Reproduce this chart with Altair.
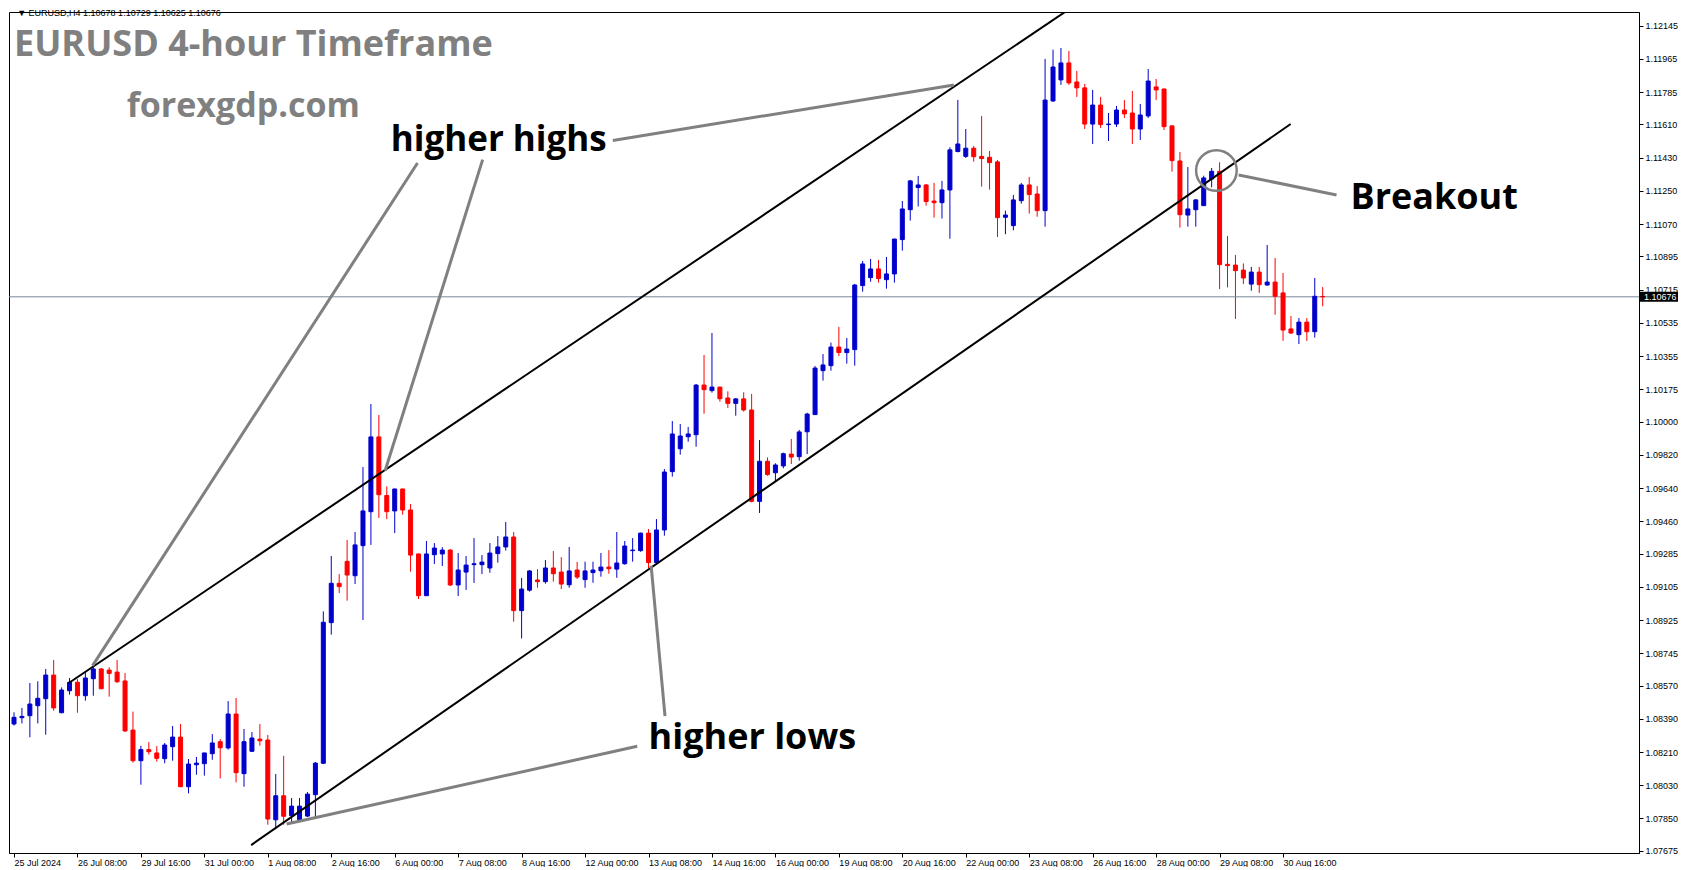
import altair as alt
import pandas as pd

# ---------------- data (EURUSD H4) ----------------
open_ = [1.08362, 1.08396, 1.08407, 1.08461, 1.08499, 1.08627, 1.08423, 1.08542, 1.08588, 1.08515,
         1.08607, 1.08660, 1.08654, 1.08643, 1.08595, 1.08329, 1.08163, 1.08223, 1.08205, 1.08174,
         1.08239, 1.08291, 1.08022, 1.08141, 1.08147, 1.08201, 1.08266, 1.08232, 1.08416, 1.08093,
         1.08214, 1.08280, 1.08275, 1.07843, 1.07973, 1.07865, 1.07843, 1.07863, 1.07979, 1.08149,
         1.08911, 1.09124, 1.09243, 1.09165, 1.09328, 1.09512, 1.09917, 1.09600, 1.09516, 1.09635,
         1.09521, 1.09283, 1.09057, 1.09279, 1.09283, 1.09304, 1.09115, 1.09185, 1.09225, 1.09225,
         1.09207, 1.09285, 1.09321, 1.09375, 1.08976, 1.09087, 1.09142, 1.09133, 1.09207, 1.09185,
         1.09116, 1.09196, 1.09144, 1.09182, 1.09192, 1.09212, 1.09201, 1.09230, 1.09301, 1.09301,
         1.09396, 1.09236, 1.09413, 1.09729, 1.09853, 1.09918, 1.09929, 1.10198, 1.10168, 1.10187,
         1.10128, 1.10099, 1.10123, 1.10063, 1.09568, 1.09785, 1.09723, 1.09760, 1.09824, 1.09810,
         1.09945, 1.10038, 1.10276, 1.10303, 1.10404, 1.10374, 1.10390, 1.10737, 1.10780, 1.10827,
         1.10769, 1.10800, 1.10986, 1.11148, 1.11268, 1.11282, 1.11195, 1.11186, 1.11255, 1.11463,
         1.11437, 1.11481, 1.11437, 1.11432, 1.11407, 1.11107, 1.11062, 1.11197, 1.11282, 1.11233,
         1.11143, 1.11737, 1.11851, 1.11943, 1.11840, 1.11808, 1.11612, 1.11715, 1.11609, 1.11612,
         1.11688, 1.11672, 1.11585, 1.11656, 1.11813, 1.11802, 1.11602, 1.11412, 1.11119, 1.11148,
         1.11170, 1.11314, 1.11356, 1.10852, 1.10848, 1.10821, 1.10745, 1.10810, 1.10740, 1.10756,
         1.10697, 1.10502, 1.10471, 1.10539, 1.10487, 1.10678]
high = [1.08425, 1.08449, 1.08584, 1.08593, 1.08660, 1.08709, 1.08560, 1.08611, 1.08605, 1.08642,
        1.08687, 1.08665, 1.08669, 1.08709, 1.08638, 1.08429, 1.08244, 1.08264, 1.08242, 1.08259,
        1.08351, 1.08362, 1.08172, 1.08183, 1.08205, 1.08307, 1.08280, 1.08486, 1.08503, 1.08335,
        1.08318, 1.08362, 1.08302, 1.08091, 1.08190, 1.07961, 1.07961, 1.07993, 1.08156, 1.08972,
        1.09272, 1.09174, 1.09359, 1.09402, 1.09754, 1.10095, 1.10036, 1.09649, 1.09637, 1.09637,
        1.09554, 1.09285, 1.09353, 1.09342, 1.09320, 1.09310, 1.09288, 1.09272, 1.09369, 1.09277,
        1.09342, 1.09380, 1.09456, 1.09402, 1.09153, 1.09196, 1.09201, 1.09250, 1.09299, 1.09266,
        1.09321, 1.09240, 1.09241, 1.09241, 1.09288, 1.09304, 1.09402, 1.09353, 1.09369, 1.09398,
        1.09418, 1.09472, 1.09743, 1.10003, 1.09987, 1.09971, 1.10204, 1.10361, 1.10480, 1.10189,
        1.10164, 1.10128, 1.10159, 1.10150, 1.09900, 1.09806, 1.09774, 1.09832, 1.09906, 1.09955,
        1.10048, 1.10301, 1.10366, 1.10428, 1.10513, 1.10453, 1.10746, 1.10870, 1.10881, 1.10876,
        1.10892, 1.10991, 1.11195, 1.11309, 1.11331, 1.11287, 1.11293, 1.11304, 1.11486, 1.11743,
        1.11585, 1.11493, 1.11656, 1.11466, 1.11417, 1.11143, 1.11228, 1.11293, 1.11325, 1.11276,
        1.11965, 1.12015, 1.12024, 1.12008, 1.11900, 1.11829, 1.11797, 1.11759, 1.11672, 1.11710,
        1.11742, 1.11791, 1.11721, 1.11910, 1.11856, 1.11804, 1.11604, 1.11461, 1.11379, 1.11206,
        1.11332, 1.11374, 1.11405, 1.11006, 1.10903, 1.10857, 1.10838, 1.10838, 1.10957, 1.10886,
        1.10805, 1.10572, 1.10561, 1.10561, 1.10778, 1.10729]
low = [1.08353, 1.08365, 1.08290, 1.08365, 1.08304, 1.08434, 1.08420, 1.08521, 1.08423, 1.08488,
       1.08515, 1.08550, 1.08510, 1.08584, 1.08320, 1.08152, 1.08033, 1.08196, 1.08158, 1.08149,
       1.08163, 1.08020, 1.07986, 1.08087, 1.08082, 1.08168, 1.08067, 1.08223, 1.08046, 1.08022,
       1.08210, 1.08244, 1.07816, 1.07793, 1.07816, 1.07831, 1.07840, 1.07858, 1.07858, 1.08145,
       1.08846, 1.09071, 1.09030, 1.09120, 1.08925, 1.09332, 1.09478, 1.09472, 1.09396, 1.09496,
       1.09187, 1.09039, 1.09055, 1.09229, 1.09218, 1.09109, 1.09055, 1.09088, 1.09126, 1.09174,
       1.09181, 1.09236, 1.09301, 1.08916, 1.08825, 1.09079, 1.09100, 1.09122, 1.09133, 1.09093,
       1.09100, 1.09147, 1.09100, 1.09127, 1.09160, 1.09176, 1.09154, 1.09225, 1.09241, 1.09295,
       1.09207, 1.09230, 1.09382, 1.09702, 1.09821, 1.09891, 1.09864, 1.10043, 1.10157, 1.10108,
       1.10074, 1.10032, 1.10054, 1.09563, 1.09505, 1.09707, 1.09676, 1.09747, 1.09770, 1.09788,
       1.09824, 1.10036, 1.10222, 1.10276, 1.10355, 1.10314, 1.10303, 1.10704, 1.10758, 1.10753,
       1.10720, 1.10753, 1.10926, 1.11089, 1.11165, 1.11170, 1.11105, 1.11100, 1.10991, 1.11459,
       1.11428, 1.11408, 1.11273, 1.11257, 1.11000, 1.11015, 1.11036, 1.11181, 1.11127, 1.11110,
       1.11056, 1.11732, 1.11824, 1.11824, 1.11759, 1.11585, 1.11504, 1.11591, 1.11520, 1.11596,
       1.11645, 1.11504, 1.11526, 1.11645, 1.11742, 1.11580, 1.11354, 1.11051, 1.11056, 1.11056,
       1.11168, 1.11269, 1.10718, 1.10727, 1.10556, 1.10745, 1.10709, 1.10697, 1.10736, 1.10579,
       1.10438, 1.10475, 1.10420, 1.10437, 1.10455, 1.10625]
close = [1.08398, 1.08403, 1.08470, 1.08501, 1.08627, 1.08449, 1.08546, 1.08588, 1.08515, 1.08611,
         1.08660, 1.08553, 1.08636, 1.08591, 1.08324, 1.08163, 1.08223, 1.08212, 1.08176, 1.08248,
         1.08291, 1.08022, 1.08145, 1.08150, 1.08205, 1.08259, 1.08233, 1.08416, 1.08098, 1.08266,
         1.08286, 1.08271, 1.07847, 1.07973, 1.07862, 1.07917, 1.07917, 1.07982, 1.08150, 1.08913,
         1.09124, 1.09106, 1.09169, 1.09332, 1.09516, 1.09917, 1.09604, 1.09512, 1.09635, 1.09521,
         1.09277, 1.09057, 1.09283, 1.09315, 1.09304, 1.09115, 1.09196, 1.09223, 1.09230, 1.09239,
         1.09288, 1.09321, 1.09375, 1.08976, 1.09093, 1.09191, 1.09133, 1.09207, 1.09176, 1.09120,
         1.09191, 1.09158, 1.09191, 1.09196, 1.09212, 1.09203, 1.09234, 1.09326, 1.09304, 1.09396,
         1.09236, 1.09413, 1.09727, 1.09933, 1.09922, 1.09933, 1.10198, 1.10173, 1.10187, 1.10124,
         1.10099, 1.10123, 1.10063, 1.09568, 1.09785, 1.09713, 1.09765, 1.09826, 1.09808, 1.09944,
         1.10041, 1.10290, 1.10307, 1.10404, 1.10374, 1.10393, 1.10740, 1.10854, 1.10827, 1.10775,
         1.10800, 1.10989, 1.11152, 1.11304, 1.11282, 1.11192, 1.11186, 1.11255, 1.11472, 1.11504,
         1.11481, 1.11435, 1.11425, 1.11403, 1.11105, 1.11119, 1.11201, 1.11282, 1.11230, 1.11143,
         1.11742, 1.11921, 1.11943, 1.11835, 1.11808, 1.11612, 1.11715, 1.11609, 1.11612, 1.11688,
         1.11667, 1.11585, 1.11661, 1.11845, 1.11797, 1.11598, 1.11414, 1.11121, 1.11152, 1.11201,
         1.11320, 1.11356, 1.10850, 1.10845, 1.10818, 1.10778, 1.10810, 1.10742, 1.10756, 1.10679,
         1.10496, 1.10480, 1.10539, 1.10487, 1.10679, 1.10676]
bar_index = list(range(len(close)))

time_tick_values = list(range(0, 161, 8))
time_tick_labels = ["25 Jul 2024", "26 Jul 08:00", "29 Jul 16:00", "31 Jul 00:00", "1 Aug 08:00",
                    "2 Aug 16:00", "6 Aug 00:00", "7 Aug 08:00", "8 Aug 16:00", "12 Aug 00:00",
                    "13 Aug 08:00", "14 Aug 16:00", "16 Aug 00:00", "19 Aug 08:00", "20 Aug 16:00",
                    "22 Aug 00:00", "23 Aug 08:00", "26 Aug 16:00", "28 Aug 00:00", "29 Aug 08:00",
                    "30 Aug 16:00"]
price_tick_values = [1.12145, 1.11965, 1.11785, 1.11610, 1.11430, 1.11250, 1.11070, 1.10895,
                     1.10715, 1.10535, 1.10355, 1.10175, 1.10000, 1.09820, 1.09640, 1.09460,
                     1.09285, 1.09105, 1.08925, 1.08745, 1.08570, 1.08390, 1.08210, 1.08030,
                     1.07850, 1.07675]

# trend lines / pointer lines (bar index, price)
seg_x1 = [6.91, 29.9, 50.875, 59.09, 75.5, 78.58, 80.33, 154.4]
seg_y1 = [1.08584, 1.07706, 1.11401, 1.11419, 1.11523, 1.08241, 1.09220, 1.11336]
seg_x2 = [140.0, 160.96, 9.91, 46.79, 118.5, 34.375, 82.08, 166.75]
seg_y2 = [1.12436, 1.11612, 1.08678, 1.09734, 1.11824, 1.07820, 1.08405, 1.11228]
seg_kind = ["channel", "channel", "pointer", "pointer", "pointer", "pointer", "pointer", "pointer"]

circle_x = [151.6]
circle_y = [1.11360]

ann_text = ["EURUSD 4-hour Timeframe", "forexgdp.com", "higher highs", "higher lows", "Breakout"]
ann_x = [0.0, 14.2, 47.5, 80.0, 168.5]
ann_y = [1.11983, 1.11652, 1.11465, 1.08224, 1.11150]
ann_size = [36, 34, 35, 36, 36]
ann_color = ["#808080", "#808080", "#000000", "#000000", "#000000"]

header_text = "▼ EURUSD,H4  1.10678 1.10729 1.10625 1.10676"
header_x = [0.4]
header_y = [1.12214]

current_price = close[-1]

# ---------------- chart ----------------
df = pd.DataFrame({"i": bar_index, "open": open_, "high": high, "low": low, "close": close})
df["dir"] = ["up" if c >= o else "down" for o, c in zip(open_, close)]

seg = pd.DataFrame({"x1": seg_x1, "y1": seg_y1, "x2": seg_x2, "y2": seg_y2, "kind": seg_kind})
circ = pd.DataFrame({"x": circle_x, "y": circle_y})
ann = pd.DataFrame({"x": ann_x, "y": ann_y, "t": ann_text, "s": ann_size, "c": ann_color})
hdr = pd.DataFrame({"x": header_x, "y": header_y, "t": [header_text]})
cur = pd.DataFrame({"p": [current_price], "t": [f"{current_price:.5f}"]})

xscale = alt.Scale(domain=[0, 204.25], nice=False, zero=False)
yscale = alt.Scale(domain=[1.07663, 1.12219], nice=False, zero=False)
cscale = alt.Scale(domain=["up", "down"], range=["#0000cd", "#ff0000"])

label_js = "[" + ",".join(f"'{s}'" for s in time_tick_labels) + "]"
x_axis = alt.Axis(values=time_tick_values, labelExpr=f"{label_js}[round(datum.value / 8)]",
                  labelAlign="left", labelFont="Liberation Sans", labelFontSize=9,
                  labelColor="black", tickColor="black", domainColor="black", tickSize=4,
                  labelPadding=1, grid=False, title=None, labelFlush=False, labelOverlap=False)
y_axis = alt.Axis(orient="right", values=price_tick_values, format=".5f",
                  labelFont="Liberation Sans", labelFontSize=9, labelColor="black",
                  tickColor="black", domainColor="black", tickSize=4, labelPadding=2,
                  grid=False, title=None, labelOverlap=False)


def X(f, **k):
    return alt.X(f, scale=xscale, axis=x_axis, title=None, **k)


def Y(f, **k):
    return alt.Y(f, scale=yscale, axis=y_axis, title=None, **k)


wicks = alt.Chart(df).mark_rule(strokeWidth=1, clip=True).encode(
    x=X("i:Q"), y=Y("low:Q"), y2="high:Q",
    color=alt.Color("dir:N", scale=cscale, legend=None),
)
bodies = alt.Chart(df).mark_bar(width=4, strokeWidth=1, clip=True).encode(
    x=X("i:Q"), y=Y("open:Q"), y2="close:Q",
    color=alt.Color("dir:N", scale=cscale, legend=None),
    stroke=alt.Stroke("dir:N", scale=cscale, legend=None),
)
price_line = alt.Chart(cur).mark_rule(color="#778899", strokeWidth=1).encode(y=Y("p:Q"))

channel = alt.Chart(seg).transform_filter("datum.kind == 'channel'").mark_rule(
    color="black", strokeWidth=2, clip=True).encode(x=X("x1:Q"), y=Y("y1:Q"), x2="x2:Q", y2="y2:Q")
pointers = alt.Chart(seg).transform_filter("datum.kind == 'pointer'").mark_rule(
    color="#808080", strokeWidth=3, clip=True).encode(x=X("x1:Q"), y=Y("y1:Q"), x2="x2:Q", y2="y2:Q")
circle = alt.Chart(circ).mark_point(shape="circle", size=1650, filled=False, color="#808080",
                                    strokeWidth=2.5, opacity=1).encode(x=X("x:Q"), y=Y("y:Q"))

texts = alt.Chart(ann).mark_text(font="Open Sans", fontWeight="bold", align="left",
                                 baseline="alphabetic").encode(
    x=X("x:Q"), y=Y("y:Q"), text="t:N",
    size=alt.Size("s:Q", scale=None, legend=None),
    color=alt.Color("c:N", scale=None, legend=None),
)
header = alt.Chart(hdr).mark_text(font="Liberation Sans", fontSize=9, align="left",
                                  baseline="middle", color="black").encode(
    x=X("x:Q"), y=Y("y:Q"), text="t:N")

price_box = alt.Chart(cur).mark_rect(color="black", yOffset=-5, y2Offset=5).encode(
    x=alt.value(1631), x2=alt.value(1669), y=Y("p:Q"), y2="p:Q")
price_text = alt.Chart(cur).mark_text(font="Liberation Sans", fontSize=9, align="left",
                                      baseline="middle", color="white").encode(
    x=alt.value(1635), y=Y("p:Q"), text="t:N")

chart = alt.layer(
    wicks, price_line, bodies, channel, pointers, circle, texts, header,
    price_box, price_text,
).properties(
    width=1630, height=841, background="white",
    padding={"left": 0, "top": 0, "right": 0, "bottom": 0},
).configure_view(stroke="black", strokeWidth=1)

chart.save("out.html", embed_options={"renderer": "svg", "actions": False})
